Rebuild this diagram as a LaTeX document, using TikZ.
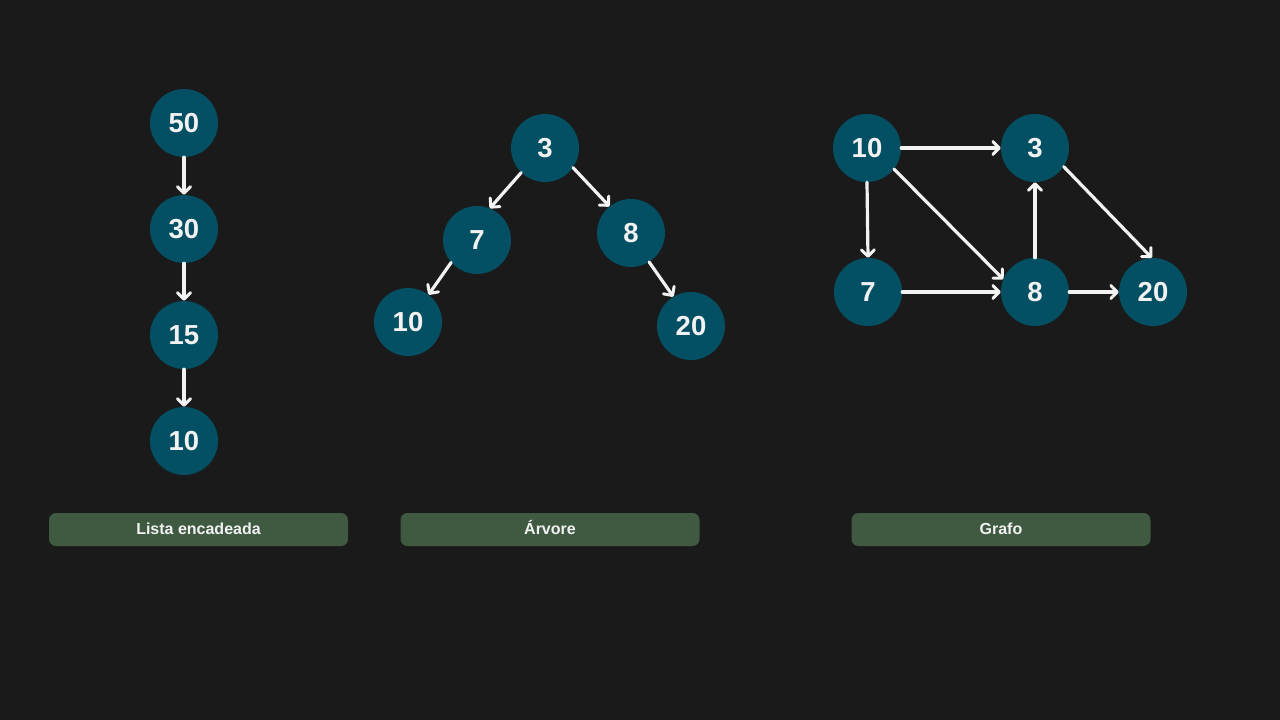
\documentclass[tikz,border=0pt]{standalone}
\usepackage{fontspec}
\setmainfont{Liberation Sans}
\usetikzlibrary{arrows.meta}
\definecolor{bg}{HTML}{1A1A1A}
\definecolor{nodefill}{HTML}{034F63}
\definecolor{lab}{HTML}{3F5A41}
\definecolor{fg}{HTML}{F2F2F2}
\begin{document}
\begin{tikzpicture}[x=1pt,y=-1pt,
  vnode/.style={circle,fill=nodefill,minimum size=68pt,inner sep=0pt,text=fg,font=\fontsize{27.5}{30}\selectfont\bfseries},
  edge/.style={draw=fg,line width=3.2pt,line cap=round,-{Straight Barb[length=6.5pt,width=13pt,line width=3pt,round]}},
  labelbox/.style={fill=lab,rounded corners=7pt,minimum width=299pt,minimum height=33pt,inner sep=0pt,text height=12pt,text depth=3pt,text=fg,font=\fontsize{16}{19}\selectfont\bfseries}]
\fill[bg] (0,0) rectangle (1280,720);
\useasboundingbox (0,0) rectangle (1280,720);
% list
\node[vnode] (l50) at (184,123) {50};
\node[vnode] (l30) at (184,229) {30};
\node[vnode] (l15) at (184,335) {15};
\node[vnode] (l10) at (184,441) {10};
\draw[edge] (l50.south) -- (l30.north);
\draw[edge] (l30.south) -- (l15.north);
\draw[edge] (l15.south) -- (l10.north);
% tree
\node[vnode] (t3) at (545,148) {3};
\node[vnode] (t7) at (477,240) {7};
\node[vnode] (t8) at (631,233) {8};
\node[vnode] (t10) at (408,322) {10};
\node[vnode] (t20) at (691,326) {20};
\draw[edge] (t3.226) -- (t7.68);
\draw[edge] (t3.-35) -- (t8.129);
\draw[edge] (t7.221) -- (t10.53);
\draw[edge] (t8.-58) -- (t20.121);
% graph
\node[vnode] (g10) at (867,148) {10};
\node[vnode] (g3) at (1035,148) {3};
\node[vnode] (g7) at (868,292) {7};
\node[vnode] (g8) at (1035,292) {8};
\node[vnode] (g20) at (1153,292) {20};
\draw[edge] (g10.east) -- (g3.west);
\draw[edge] (g10.south) -- (g7.north);
\draw[edge] (g10.-38) -- (g8.158);
\draw[edge] (g7.east) -- (g8.west);
\draw[edge] (g8.north) -- (g3.south);
\draw[edge] (g8.east) -- (g20.west);
\draw[edge] (g3.-33) -- (g20.92);
% labels
\node[labelbox] (lab1) at (198.5,529.5) {Lista encadeada};
\node[labelbox] (lab2) at (550,529.5) {Árvore};
\node[labelbox] (lab3) at (1001,529.5) {Grafo};
\end{tikzpicture}
\end{document}
